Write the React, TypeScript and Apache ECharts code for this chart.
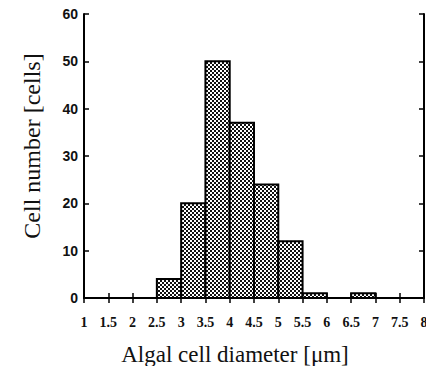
import React, { useEffect, useRef } from "react";
import * as echarts from "echarts";

const binStarts = [2.5, 3, 3.5, 4, 4.5, 5, 5.5, 6, 6.5];
const binWidth = 0.5;
const counts = [4, 20, 50, 37, 24, 12, 1, 0, 1];
const xTickLabels = ["1", "1.5", "2", "2.5", "3", "3.5", "4", "4.5", "5", "5.5", "6", "6.5", "7", "7.5", "8"];
const yTicks = [0, 10, 20, 30, 40, 50, 60];
const xTitle = "Algal cell diameter [μm]";
const yTitle = "Cell number [cells]";

function makePattern(): string {
  const c = document.createElement("canvas");
  c.width = 4;
  c.height = 4;
  const ctx = c.getContext("2d")!;
  ctx.fillStyle = "#ffffff";
  ctx.fillRect(0, 0, 4, 4);
  ctx.fillStyle = "#111111";
  ctx.fillRect(0, 0, 2, 2);
  ctx.fillRect(2, 2, 2, 2);
  return c.toDataURL();
}

export default function App() {
  const ref = useRef<HTMLDivElement>(null);
  useEffect(() => {
    const chart = echarts.init(ref.current!, null, { renderer: "svg" });
    const pattern = makePattern();
    const data = binStarts
      .map((s, i) => [s, s + binWidth, counts[i]])
      .filter((d) => d[2] > 0);
    const xLabelFmt = (v: number) => {
      const s = String(v);
      return xTickLabels.includes(s) ? s : "";
    };
    chart.setOption({
      animation: false,
      backgroundColor: "#ffffff",
      grid: { left: 84, right: 10, top: 14, bottom: 76 },
      graphic: [
        {
          type: "text",
          x: 235,
          y: 354,
          style: {
            text: xTitle,
            fontFamily: "Liberation Serif",
            fontSize: 23,
            fill: "#111",
            textAlign: "center",
            textVerticalAlign: "middle",
          },
        },
        {
          type: "text",
          x: 32,
          y: 146,
          rotation: Math.PI / 2,
          style: {
            text: yTitle,
            fontFamily: "Liberation Serif",
            fontSize: 24,
            fill: "#111",
            textAlign: "center",
            textVerticalAlign: "middle",
          },
        },
      ],
      xAxis: [
        {
          type: "value",
          min: 1,
          max: 8,
          interval: 0.5,
          position: "bottom",
          axisLine: { show: true, lineStyle: { color: "#000", width: 2 } },
          axisTick: { show: true, inside: true, length: 5, lineStyle: { color: "#000", width: 1.5 } },
          axisLabel: {
            formatter: xLabelFmt,
            margin: 17,
            fontFamily: "Liberation Serif",
            fontWeight: "bold",
            fontSize: 14,
            color: "#111",
            showMinLabel: true,
            showMaxLabel: true,
          },
          splitLine: { show: false },
        },
        {
          type: "value",
          min: 1,
          max: 8,
          interval: 0.5,
          position: "top",
          axisLine: { show: true, lineStyle: { color: "#000", width: 2 } },
          axisTick: { show: true, inside: true, length: 5, lineStyle: { color: "#000", width: 1.5 } },
          axisLabel: { show: false },
          splitLine: { show: false },
        },
      ],
      yAxis: [
        {
          type: "value",
          min: yTicks[0],
          max: yTicks[yTicks.length - 1],
          interval: 10,
          position: "left",
          axisLine: { show: true, lineStyle: { color: "#000", width: 2 } },
          axisTick: { show: true, inside: true, length: 5, lineStyle: { color: "#000", width: 1.5 } },
          axisLabel: {
            margin: 6,
            padding: [8, 0, 0, 0],
            fontFamily: "Liberation Sans",
            fontWeight: "bold",
            fontSize: 14,
            color: "#111",
          },
          splitLine: { show: false },
        },
        {
          type: "value",
          min: 0,
          max: 60,
          interval: 10,
          position: "right",
          axisLine: { show: true, lineStyle: { color: "#000", width: 2 } },
          axisTick: { show: true, inside: true, length: 5, lineStyle: { color: "#000", width: 1.5 } },
          axisLabel: { show: false },
          splitLine: { show: false },
        },
      ],
      series: [
        {
          type: "custom",
          xAxisIndex: 0,
          yAxisIndex: 0,
          data,
          renderItem: (params: any, api: any) => {
            const p1 = api.coord([api.value(0), api.value(2)]);
            const p2 = api.coord([api.value(1), 0]);
            return {
              type: "rect",
              shape: { x: p1[0], y: p1[1], width: p2[0] - p1[0], height: p2[1] - p1[1] },
              style: {
                fill: { image: pattern, repeat: "repeat" },
                stroke: "#000",
                lineWidth: 2,
              },
            };
          },
        },
      ],
    });
    return () => chart.dispose();
  }, []);
  return <div ref={ref} style={{ width: 434, height: 374, margin: -8 }} />;
}
